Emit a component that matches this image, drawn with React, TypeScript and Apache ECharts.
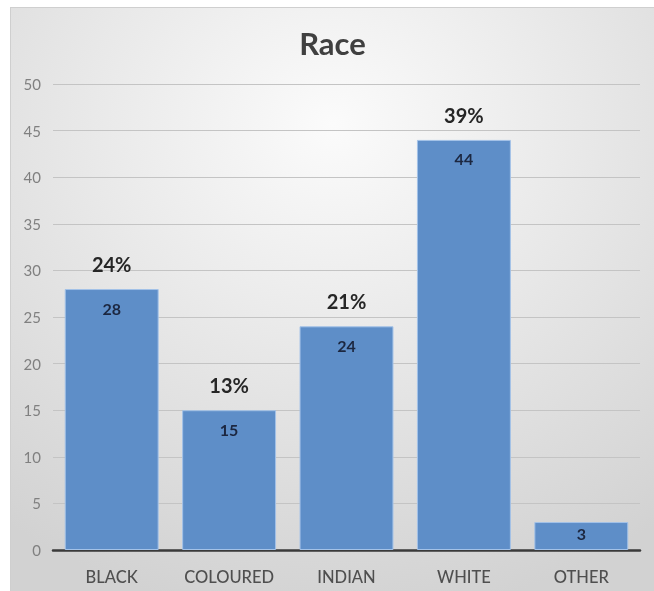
import React, { useEffect, useRef } from "react";
import * as echarts from "echarts";

const categories = ["BLACK", "COLOURED", "INDIAN", "WHITE", "OTHER"];
const counts = [28, 15, 24, 44, 3];
const percentLabels = ["24%", "13%", "21%", "39%", ""];
const chartTitle = "Race";

export default function App() {
  const ref = useRef<HTMLDivElement>(null);
  useEffect(() => {
    if (!ref.current) return;
    const chart = echarts.init(ref.current, null, { renderer: "svg" });
    const font = "Lato, 'Open Sans', sans-serif";
    chart.setOption({
      animation: false,
      backgroundColor: {
        type: "radial",
        x: 0.5,
        y: 0.2,
        r: 0.85,
        colorStops: [
          { offset: 0, color: "#fbfbfb" },
          { offset: 1, color: "#d2d2d2" },
        ],
      },
      title: {
        text: chartTitle,
        left: "center",
        top: 14,
        textStyle: { fontFamily: font, fontSize: 31, fontWeight: "bold", color: "#404040" },
      },
      grid: { left: 42, right: 14, top: 76, bottom: 41, containLabel: false },
      xAxis: {
        type: "category",
        data: categories,
        axisTick: { show: false },
        axisLine: { lineStyle: { color: "#3a3a3a", width: 2.5 } },
        axisLabel: {
          interval: 0,
          hideOverlap: false,
          fontFamily: font,
          fontSize: 16.5,
          fontWeight: 500,
          color: "#4f4f4f",
          margin: 18,
        },
      },
      yAxis: {
        type: "value",
        min: 0,
        max: 50,
        interval: 5,
        axisLine: { show: false },
        axisTick: { show: false },
        axisLabel: { fontFamily: font, fontSize: 15, color: "#808080", margin: 12 },
        splitLine: { lineStyle: { color: "#c4c4c4", width: 1 } },
      },
      series: [
        {
          type: "bar",
          data: counts.map((v) => (v < 5 ? { value: v, label: { distance: 3 } } : v)),
          barCategoryGap: "20%",
          itemStyle: { color: "#5e8ec8", borderColor: "#a3c2e8", borderWidth: 1 },
          label: {
            show: true,
            position: "insideTop",
            distance: 11,
            fontFamily: font,
            fontSize: 16,
            fontWeight: "bold",
            color: "#1c2740",
          },
          z: 2,
        },
        {
          type: "bar",
          data: counts.map((v, i) => ({ value: v, label: { formatter: percentLabels[i] } })),
          barGap: "-100%",
          barCategoryGap: "20%",
          itemStyle: { color: "rgba(0,0,0,0)" },
          label: {
            show: true,
            position: "top",
            distance: 15,
            fontFamily: font,
            fontSize: 20,
            fontWeight: "bold",
            color: "#262626",
          },
          silent: true,
          z: 3,
        },
      ],
    });
    return () => chart.dispose();
  }, []);
  return (
    <div
      ref={ref}
      style={{
        position: "fixed",
        left: 10,
        top: 7,
        width: 644,
        height: 584,
        borderLeft: "1px solid #cfcfcf",
        borderTop: "1px solid #cfcfcf",
        boxSizing: "border-box",
      }}
    />
  );
}
